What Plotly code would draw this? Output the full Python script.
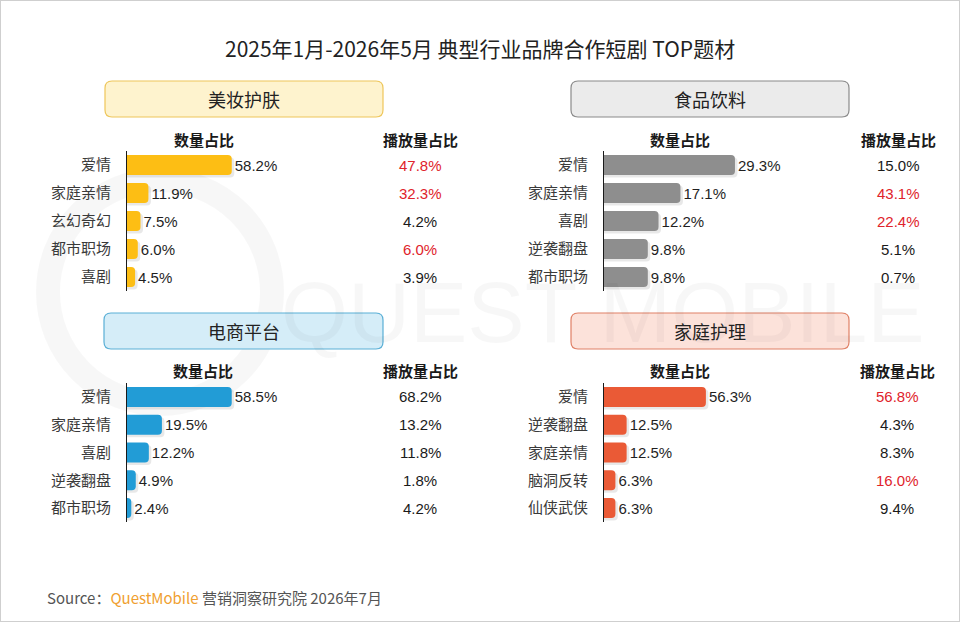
import plotly.graph_objects as go

# ---------------- data ----------------
title_text = "2025年1月-2026年5月 典型行业品牌合作短剧 TOP题材"
count_header = "数量占比"
play_header = "播放量占比"

beauty_name = "美妆护肤"
beauty_cats = ["爱情", "家庭亲情", "玄幻奇幻", "都市职场", "喜剧"]
beauty_count = [58.2, 11.9, 7.5, 6.0, 4.5]
beauty_play = [47.8, 32.3, 4.2, 6.0, 3.9]
beauty_red = [True, True, False, True, False]

food_name = "食品饮料"
food_cats = ["爱情", "家庭亲情", "喜剧", "逆袭翻盘", "都市职场"]
food_count = [29.3, 17.1, 12.2, 9.8, 9.8]
food_play = [15.0, 43.1, 22.4, 5.1, 0.7]
food_red = [False, True, True, False, False]

ecom_name = "电商平台"
ecom_cats = ["爱情", "家庭亲情", "喜剧", "逆袭翻盘", "都市职场"]
ecom_count = [58.5, 19.5, 12.2, 4.9, 2.4]
ecom_play = [68.2, 13.2, 11.8, 1.8, 4.2]
ecom_red = [False, False, False, False, False]

home_name = "家庭护理"
home_cats = ["爱情", "逆袭翻盘", "家庭亲情", "脑洞反转", "仙侠武侠"]
home_count = [56.3, 12.5, 12.5, 6.3, 6.3]
home_play = [56.8, 4.3, 8.3, 16.0, 9.4]
home_red = [True, False, False, True, False]

source_text = ("Source：<span style='color:#F0A030'>QuestMobile</span>"
               " 营销洞察研究院 2026年7月")

# ---------------- layout helpers ----------------
W, H = 960, 622
CJK = "Noto Sans CJK SC"
NUM = "Liberation Sans, Arial, Noto Sans CJK SC"
RED = "#E0232B"
ROW_PX = 28.0
BAR_W = 0.72


def px(x):
    return x / W


def py(y):
    return 1 - y / H


def rounded_rect(x0, y0, x1, y1, r):
    pts = [
        f"M {px(x0 + r)},{py(y0)}",
        f"L {px(x1 - r)},{py(y0)}",
        f"Q {px(x1)},{py(y0)} {px(x1)},{py(y0 + r)}",
        f"L {px(x1)},{py(y1 - r)}",
        f"Q {px(x1)},{py(y1)} {px(x1 - r)},{py(y1)}",
        f"L {px(x0 + r)},{py(y1)}",
        f"Q {px(x0)},{py(y1)} {px(x0)},{py(y1 - r)}",
        f"L {px(x0)},{py(y0 + r)}",
        f"Q {px(x0)},{py(y0)} {px(x0 + r)},{py(y0)}",
        "Z",
    ]
    return " ".join(pts)


def label(text, x, y, size, color, family=CJK, xanchor="center", yref="paper"):
    return dict(text=text, xref="paper", yref=yref, x=x, y=y,
                xanchor=xanchor, yanchor="middle", showarrow=False,
                font=dict(family=family, size=size, color=color))


panels = [
    dict(name=beauty_name, cats=beauty_cats, count=beauty_count, play=beauty_play, red=beauty_red,
         bar="#FDBE14", fill="#FEF3CE", border="#EEC65A",
         box=(105, 81, 383, 117), axis_x=127, ppu=1.80, rows=(151, 291),
         head_y=140, cnt_x=204, play_x=420),
    dict(name=food_name, cats=food_cats, count=food_count, play=food_play, red=food_red,
         bar="#8E8E8E", fill="#EBEBEB", border="#8A8A8A",
         box=(571, 81, 849, 117), axis_x=604, ppu=4.47, rows=(151, 291),
         head_y=140, cnt_x=680, play_x=898),
    dict(name=ecom_name, cats=ecom_cats, count=ecom_count, play=ecom_play, red=ecom_red,
         bar="#229CD6", fill="#D5EDF8", border="#5AAFD6",
         box=(104, 313, 383, 349), axis_x=127, ppu=1.79, rows=(383, 522),
         head_y=370, cnt_x=203, play_x=420),
    dict(name=home_name, cats=home_cats, count=home_count, play=home_play, red=home_red,
         bar="#EA5A36", fill="#FCE2DA", border="#E08066",
         box=(571, 313, 849, 349), axis_x=604, ppu=1.81, rows=(383, 522),
         head_y=370, cnt_x=680, play_x=897),
]

fig = go.Figure()
shapes = []
annotations = []

# faint watermark
shapes.append(dict(type="circle", xref="paper", yref="paper",
                   x0=px(48), x1=px(272), y0=py(180), y1=py(404),
                   line=dict(color="rgba(0,0,0,0.03)", width=24), layer="below"))
annotations.append(label("QUEST MOBILE", px(603), py(312), 86, "rgba(0,0,0,0.03)",
                         family="Liberation Sans"))

span_px = 260
for i, p in enumerate(panels, start=1):
    xa = "x" if i == 1 else f"x{i}"
    ya = "y" if i == 1 else f"y{i}"
    # soft drop shadow under each bar
    fig.add_trace(go.Bar(
        x=[v + 2.5 / p["ppu"] for v in p["count"]], y=p["cats"], orientation="h",
        marker=dict(color="rgba(0,0,0,0.09)", line=dict(width=0)),
        width=BAR_W, offset=-BAR_W / 2 + 2.5 / ROW_PX,
        hoverinfo="skip", showlegend=False, xaxis=xa, yaxis=ya,
    ))
    fig.add_trace(go.Bar(
        x=p["count"], y=p["cats"], orientation="h",
        marker=dict(color=p["bar"], line=dict(width=0)),
        width=BAR_W, offset=-BAR_W / 2,
        text=[f"{v:.1f}%" for v in p["count"]],
        textposition="outside", constraintext="none", cliponaxis=False,
        textfont=dict(family=NUM, size=15, color="#1f1f1f"),
        hoverinfo="skip", showlegend=False,
        xaxis=xa, yaxis=ya,
    ))
    xkey = "xaxis" if i == 1 else f"xaxis{i}"
    ykey = "yaxis" if i == 1 else f"yaxis{i}"
    fig.update_layout({
        xkey: dict(domain=[px(p["axis_x"]), px(p["axis_x"] + span_px)],
                   range=[0, span_px / p["ppu"]], visible=False, anchor=ya,
                   fixedrange=True),
        ykey: dict(domain=[py(p["rows"][1]), py(p["rows"][0])],
                   autorange="reversed", type="category", anchor=xa,
                   showline=True, linecolor="#1a1a1a", linewidth=1.2,
                   showgrid=False, zeroline=False,
                   ticks="outside", ticklen=12, tickcolor="rgba(0,0,0,0)",
                   tickfont=dict(family=CJK, size=15, color="#3a3a3a"),
                   fixedrange=True),
    })
    x0, y0, x1, y1 = p["box"]
    shapes.append(dict(type="path", xref="paper", yref="paper",
                       path=rounded_rect(x0, y0, x1, y1, 7),
                       fillcolor=p["fill"], line=dict(color=p["border"], width=1.2),
                       layer="below"))
    annotations.append(label(p["name"], px((x0 + x1) / 2), py((y0 + y1) / 2), 18, "#222222"))
    annotations.append(label(f"<b>{count_header}</b>", px(p["cnt_x"]), py(p["head_y"]), 15, "#1a1a1a"))
    annotations.append(label(f"<b>{play_header}</b>", px(p["play_x"]), py(p["head_y"]), 15, "#1a1a1a"))
    for cat, val, is_red in zip(p["cats"], p["play"], p["red"]):
        annotations.append(label(f"{val:.1f}%", px(p["play_x"]), cat, 15,
                                 RED if is_red else "#1a1a1a", family=NUM, yref=ya))

annotations.append(label(title_text, 0.5, py(48), 21, "#222222"))
annotations.append(label(source_text, px(45), py(597), 15, "#555555", xanchor="left"))

# outer border
shapes.append(dict(type="rect", xref="paper", yref="paper", x0=0, y0=0, x1=1, y1=1,
                   line=dict(color="#cfcfcf", width=2), fillcolor="rgba(0,0,0,0)"))

fig.update_layout(
    width=W, height=H,
    margin=dict(l=0, r=0, t=0, b=0),
    paper_bgcolor="white", plot_bgcolor="rgba(0,0,0,0)",
    barmode="overlay", barcornerradius=4,
    shapes=shapes, annotations=annotations,
    showlegend=False,
)

fig.write_html("out.html", config={"displayModeBar": False},
               post_script="document.body.style.margin='0';")
